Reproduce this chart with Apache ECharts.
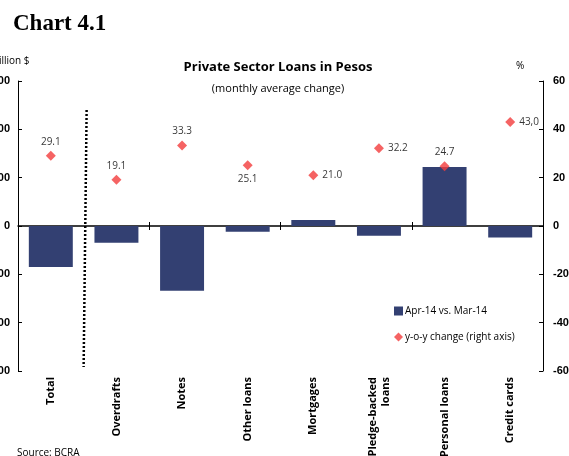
<!DOCTYPE html>
<html>
<head>
<meta charset="utf-8">
<script src="https://cdn.jsdelivr.net/npm/echarts@6/dist/echarts.min.js"></script>
<style>
  html, body { margin: 0; padding: 0; background: #fff; }
  #chart { width: 569px; height: 456px; }
</style>
</head>
<body>
<div id="chart"></div>
<script>
const categories = ['Total', 'Overdrafts', 'Notes', 'Other loans', 'Mortgages', 'Pledge-backed\nloans', 'Personal loans', 'Credit cards']
const monthlyChange = [-170, -69, -268, -24, 25, -40, 244, -48]   // million $, Apr-14 vs Mar-14
const yoyChange = [29.1, 19.1, 33.3, 25.1, 21.0, 32.2, 24.7, 43.0] // %, right axis
const yoyLabels = ['29.1', '19.1', '33.3', '25.1', '21.0', '32.2', '24.7', '43,0']
const yoyLabelPos = ['top', 'top', 'top', 'bottom', 'right', 'right', 'top', 'right']

const FONT = 'Open Sans'
const NUM_FONT = 'Liberation Sans'
const chart = echarts.init(document.getElementById('chart'))

const baseGraphic = [
    { type: 'text', left: -10, top: 56, style: { text: 'Million $', font: '10px "Open Sans"', fill: '#000' } },
    { type: 'text', left: 516, top: 61, style: { text: '%', font: '10px "Open Sans"', fill: '#000' } }
]

chart.setOption({
    animation: false,
    textStyle: { fontFamily: FONT },
    grid: { left: 18, right: 26, top: 81, bottom: 85, outerBoundsMode: 'none', containLabel: false },
    title: [
        { text: 'Chart 4.1', left: 8, top: 8, textStyle: { fontFamily: 'Liberation Serif', fontSize: 23, fontWeight: 'bold', color: '#000' } },
        { text: 'Private Sector Loans in Pesos', left: 273, top: 56, textAlign: 'center', textStyle: { fontSize: 13, fontWeight: 'bold', color: '#000' } },
        { text: '(monthly average change)', left: 273, top: 78, textAlign: 'center', textStyle: { fontSize: 11, fontWeight: 'normal', color: '#000' } },
        { text: 'Source: BCRA', left: 12, top: 443, textStyle: { fontSize: 10, fontWeight: 'normal', color: '#000' } }
    ],
    graphic: baseGraphic,
    legend: {
        orient: 'vertical',
        left: 389,
        top: 301,
        itemGap: 16,
        itemWidth: 9,
        itemHeight: 9,
        textStyle: { fontSize: 10, color: '#000', padding: [0, 0, 0, -3] },
        data: [
            { name: 'Apr-14 vs. Mar-14', icon: 'rect' },
            { name: 'y-o-y change (right axis)', icon: 'diamond' }
        ]
    },
    xAxis: [
        {
            type: 'category',
            data: categories,
            position: 'bottom',
            axisLine: { show: false, onZero: false },
            axisTick: { show: false },
            axisLabel: { rotate: 90, interval: 0, fontSize: 11, fontWeight: 'bold', color: '#000', margin: 6, align: 'right', lineHeight: 13 }
        },
        {
            type: 'category',
            data: categories,
            axisLine: { show: true, onZero: true, lineStyle: { color: '#000', width: 1.5 } },
            axisTick: { show: true, inside: false, length: 4, lineStyle: { color: '#000' } },
            axisLabel: { show: false }
        },
        {
            type: 'category',
            data: categories,
            axisLine: { show: false, onZero: true },
            axisTick: { show: true, inside: true, length: 4, lineStyle: { color: '#000' } },
            axisLabel: { show: false }
        }
    ],
    yAxis: [
        {
            type: 'value',
            min: -600, max: 600, interval: 200,
            axisLine: { show: true, lineStyle: { color: '#000' } },
            axisTick: { show: true, inside: true, length: 4, lineStyle: { color: '#000' } },
            axisLabel: { fontFamily: NUM_FONT, fontSize: 11, fontWeight: 'bold', color: '#000', margin: 8 },
            splitLine: { show: false }
        },
        {
            type: 'value',
            min: -60, max: 60, interval: 20,
            axisLine: { show: true, lineStyle: { color: '#000' } },
            axisTick: { show: true, inside: true, length: 4, lineStyle: { color: '#000' } },
            axisLabel: { fontFamily: NUM_FONT, fontSize: 11, fontWeight: 'bold', color: '#000', margin: 10 },
            splitLine: { show: false }
        }
    ],
    series: [
        {
            name: 'Apr-14 vs. Mar-14',
            type: 'bar',
            xAxisIndex: 0,
            yAxisIndex: 0,
            barWidth: '67%',
            itemStyle: { color: '#334072' },
            data: monthlyChange
        },
        {
            name: 'y-o-y change (right axis)',
            type: 'scatter',
            xAxisIndex: 0,
            yAxisIndex: 1,
            symbol: 'diamond',
            symbolSize: 10,
            itemStyle: { color: '#f23c3c' },
            data: yoyChange.map((v, i) => ({
                value: v,
                label: {
                    show: true,
                    position: yoyLabelPos[i],
                    distance: 4,
                    formatter: yoyLabels[i],
                    fontSize: 10,
                    color: '#000'
                }
            }))
        }
    ]
})

// dotted separator between "Total" and the loan types
const x0 = chart.convertToPixel({ xAxisIndex: 0 }, 0)
const x1 = chart.convertToPixel({ xAxisIndex: 0 }, 1)
const xm = (x0 + x1) / 2 + 2
chart.setOption({
    graphic: baseGraphic.concat([
        {
            type: 'line',
            shape: { x1: xm + 1, y1: 110, x2: xm - 2, y2: 367 },
            style: { stroke: '#000', lineWidth: 2.5, lineDash: [2, 2] }
        }
    ])
})
</script>
</body>
</html>
